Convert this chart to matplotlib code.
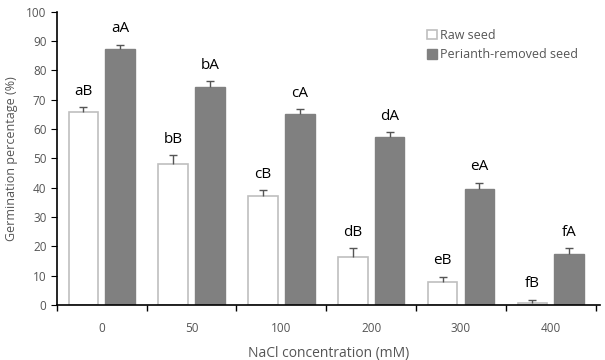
import numpy as np
import matplotlib.pyplot as plt

plt.rcParams['font.family'] = ['Open Sans', 'DejaVu Sans']

conc = ['0', '50', '100', '200', '300', '400']
raw = [65.7, 48.2, 37.1, 16.3, 7.7, 0.7]
raw_err = [1.7, 2.8, 2.0, 3.0, 1.8, 1.0]
raw_lbl = ['aB', 'bB', 'cB', 'dB', 'eB', 'fB']
per = [87.5, 74.3, 65.2, 57.4, 39.7, 17.3]
per_err = [1.3, 2.0, 1.5, 1.5, 2.0, 2.0]
per_lbl = ['aA', 'bA', 'cA', 'dA', 'eA', 'fA']

fig = plt.figure(figsize=(6.05, 3.6), dpi=100)
ax = fig.add_axes([0.094, 0.153, 0.898, 0.814])

x = np.arange(len(conc))
w = 0.33
off = 0.205
gray = '#555555'

ax.bar(x - off, raw, w, color='white', edgecolor='#bfbfbf', linewidth=1.2,
       label='Raw seed', zorder=2)
ax.bar(x + off, per, w, color='#808080', edgecolor='#808080', linewidth=1,
       label='Perianth-removed seed', zorder=2)

# error bars: upward only, cap on top
for xs, vals, errs in [(x - off, raw, raw_err), (x + off, per, per_err)]:
    tops = np.array(vals) + np.array(errs)
    ax.vlines(xs, vals, tops, color=gray, linewidth=1, zorder=3)
    ax.plot(xs, tops, ls='none', marker='_', markersize=6, mew=1, color=gray, zorder=3)

for i in range(len(conc)):
    ax.text(x[i] - off, raw[i] + raw_err[i] + 3, raw_lbl[i], ha='center',
            va='bottom', fontsize=11, color='black')
    ax.text(x[i] + off, per[i] + per_err[i] + 3, per_lbl[i], ha='center',
            va='bottom', fontsize=11, color='black')

ax.set_xlim(-0.5, len(conc) - 0.45)
ax.set_ylim(0, 100)
ax.set_yticks(range(0, 101, 10))
ax.set_xticks(x)
ax.set_xticklabels(conc)
ax.set_xticks(np.arange(len(conc) + 1) - 0.5, minor=True)
ax.tick_params(axis='x', which='major', length=0, pad=12, labelsize=8.5, labelcolor='#555555')
ax.tick_params(axis='x', which='minor', length=4, direction='out', width=1)
ax.tick_params(axis='y', length=4, direction='out', labelsize=8.5, labelcolor='#555555')

for s in ['top', 'right']:
    ax.spines[s].set_visible(False)
ax.spines['left'].set_linewidth(1.2)
ax.spines['bottom'].set_linewidth(1.2)

ax.set_ylabel('Germination percentage (%)', fontsize=9, color='#555555', labelpad=6)
ax.set_xlabel('NaCl concentration (mM)', fontsize=10, color='#555555', labelpad=8)

leg = ax.legend(loc='upper left', bbox_to_anchor=(0.66, 0.98), frameon=False,
                fontsize=9, handlelength=0.8, handleheight=0.8, handletextpad=0.3,
                labelspacing=0.5)
for t in leg.get_texts():
    t.set_color('#555555')

fig.savefig('out.png', dpi=100)
